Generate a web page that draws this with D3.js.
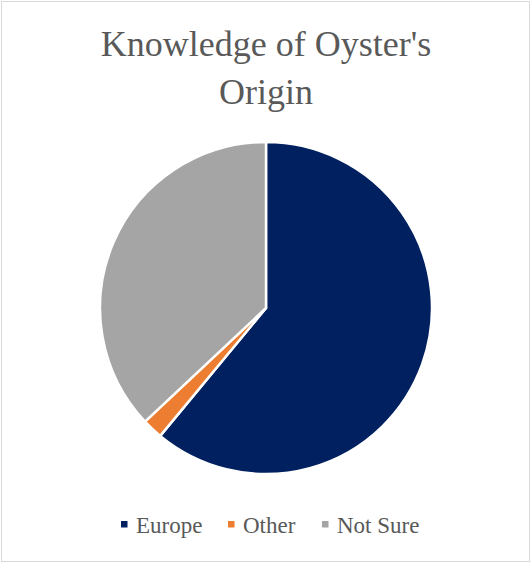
<!DOCTYPE html>
<html>
<head>
<meta charset="utf-8">
<script src="https://cdn.jsdelivr.net/npm/d3@7"></script>
<style>
  html, body { margin: 0; padding: 0; background: #fff; }
  svg { display: block; }
  svg text { font-family: "Liberation Serif", "Times New Roman", Tinos, "DejaVu Serif", serif; }
</style>
</head>
<body>
<svg id="chart" width="531" height="563"></svg>
<script>
// Survey answers: where respondents think the oysters come from (percent)
const categories = ["Europe", "Other", "Not Sure"];
const values = [61, 2, 37];
const colors = ["#002060", "#ED7D31", "#A5A5A5"];
const titleLines = ["Knowledge of Oyster's", "Origin"];

const W = 531, H = 563;
const svg = d3.select("#chart");

// Chart-area border
svg.append("rect")
  .attr("x", 1.5).attr("y", 1.5)
  .attr("width", W - 3).attr("height", H - 3)
  .attr("fill", "#fff")
  .attr("stroke", "#d9d9d9")
  .attr("stroke-width", 1);

// Title
svg.append("text")
  .attr("x", 266).attr("y", 56)
  .attr("text-anchor", "middle")
  .attr("font-size", 36)
  .attr("fill", "#595959")
  .selectAll("tspan")
  .data(titleLines)
  .join("tspan")
  .attr("x", 266)
  .attr("dy", (d, i) => i === 0 ? 0 : 48)
  .text(d => d);

// Pie
const cx = 266, cy = 308, r = 166;
const data = categories.map((c, i) => ({ name: c, value: values[i], color: colors[i] }));
const pie = d3.pie().value(d => d.value).sort(null);
const arc = d3.arc().innerRadius(0).outerRadius(r);

svg.append("g")
  .attr("transform", `translate(${cx},${cy})`)
  .selectAll("path")
  .data(pie(data))
  .join("path")
  .attr("d", arc)
  .attr("fill", d => d.data.color)
  .attr("stroke", "#fff")
  .attr("stroke-width", 2.5)
  .attr("stroke-linejoin", "round");

// Legend
const legendX = [121, 228, 322];
const legend = svg.append("g");
const items = legend.selectAll("g")
  .data(data)
  .join("g")
  .attr("transform", (d, i) => `translate(${legendX[i]},0)`);

items.append("rect")
  .attr("x", 0).attr("y", 521)
  .attr("width", 6.5).attr("height", 6.5)
  .attr("fill", d => d.color);

items.append("text")
  .attr("x", 15).attr("y", 533)
  .attr("font-size", 23)
  .attr("fill", "#595959")
  .text(d => d.name);
</script>
</body>
</html>
